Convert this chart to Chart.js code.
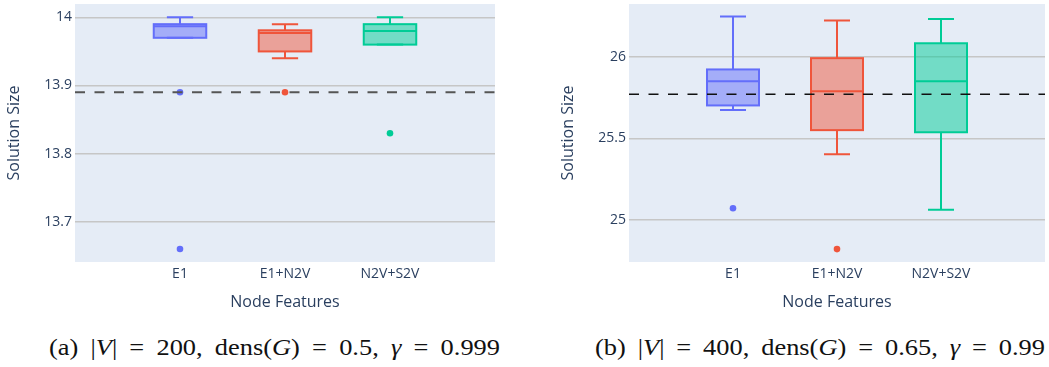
<!DOCTYPE html>
<html>
<head>
<meta charset="utf-8">
<script src="https://cdn.jsdelivr.net/npm/chart.js@4.4.0/dist/chart.umd.min.js"></script>
<style>
  html, body { margin: 0; padding: 0; background: #ffffff; }
  body { width: 1049px; height: 367px; position: relative; overflow: hidden; }
  canvas { position: absolute; top: 0; }
  #ca { left: 0; }
  #cb { left: 549px; }
  .cap { position: absolute; top: 333px; font-family: "Liberation Serif"; font-weight: 400; font-size: 24px; line-height: 28px; white-space: pre; color: #111; transform-origin: 0 0; }
  .cap i { font-style: italic; }
</style>
</head>
<body>
<canvas id="ca" width="520" height="320"></canvas>
<canvas id="cb" width="500" height="320"></canvas>
<div class="cap" id="capA" data-w="451" style="left:49px">(a) |<i>V</i>| = 200, dens(<i>G</i>) = 0.5, <i>γ</i> = 0.999</div>
<div class="cap" id="capB" data-w="450" style="left:595px">(b) |<i>V</i>| = 400, dens(<i>G</i>) = 0.65, <i>γ</i> = 0.99</div>
<script>
// ---------- data ----------
const categories = ['E1', 'E1+N2V', 'N2V+S2V'];
const colors = ['#636efa', '#EF553B', '#00cc96'];

// panel (a)
const aLow    = [13.970, 13.940, 13.960];
const aQ1     = [13.970, 13.950, 13.960];
const aMedian = [13.987, 13.977, 13.980];
const aQ3     = [13.990, 13.981, 13.990];
const aHigh   = [14.000, 13.990, 14.000];
const aOutliers = [[13.890, 13.660], [13.890], [13.830]];
const aReference = 13.89;
const aTicks = [13.7, 13.8, 13.9, 14.0];
const aRange = [13.641, 14.0196];

// panel (b)
const bLow    = [25.673, 25.402, 25.063];
const bQ1     = [25.701, 25.550, 25.537];
const bMedian = [25.849, 25.788, 25.849];
const bQ3     = [25.921, 25.990, 26.081];
const bHigh   = [26.244, 26.220, 26.229];
const bOutliers = [[25.073], [24.823], []];
const bReference = 25.77;
const bTicks = [25.0, 25.5, 26.0];
const bRange = [24.744, 26.321];

// ---------- helpers ----------
function hexA(hex, a) {
  const n = parseInt(hex.slice(1), 16);
  return `rgba(${(n >> 16) & 255},${(n >> 8) & 255},${n & 255},${a})`;
}

const bgPlugin = {
  id: 'plotBg',
  beforeDraw(chart) {
    const { ctx, chartArea: c } = chart;
    ctx.save();
    ctx.fillStyle = '#E5ECF6';
    ctx.fillRect(c.left, c.top, c.right - c.left, c.bottom - c.top);
    ctx.restore();
  }
};

const boxPlugin = {
  id: 'boxes',
  beforeDatasetsDraw(chart) {
    const st = chart.options.plugins.boxes;
    if (!st) return;
    const { ctx } = chart;
    const xs = chart.scales.x, ys = chart.scales.y;
    ctx.save();
    ctx.beginPath();
    ctx.rect(chart.chartArea.left, chart.chartArea.top, chart.chartArea.right - chart.chartArea.left, chart.chartArea.bottom - chart.chartArea.top);
    ctx.clip();
    categories.forEach((cat, i) => {
      const xc = xs.getPixelForValue(i + 1);
      const hw = xs.getPixelForValue(i + 1 + st.halfWidth) - xc;
      const cw = hw / 2;
      const yq1 = ys.getPixelForValue(st.q1[i]);
      const yq3 = ys.getPixelForValue(st.q3[i]);
      const ym = ys.getPixelForValue(st.median[i]);
      const ylo = ys.getPixelForValue(st.low[i]);
      const yhi = ys.getPixelForValue(st.high[i]);
      const col = colors[i];
      ctx.lineWidth = 2;
      ctx.strokeStyle = col;
      ctx.fillStyle = hexA(col, 0.5);
      ctx.fillRect(xc - hw, yq3, 2 * hw, yq1 - yq3);
      ctx.strokeRect(xc - hw, yq3, 2 * hw, yq1 - yq3);
      ctx.beginPath();
      ctx.moveTo(xc - hw, ym); ctx.lineTo(xc + hw, ym);
      ctx.moveTo(xc, yq3); ctx.lineTo(xc, yhi);
      ctx.moveTo(xc, yq1); ctx.lineTo(xc, ylo);
      ctx.moveTo(xc - cw, yhi); ctx.lineTo(xc + cw, yhi);
      ctx.moveTo(xc - cw, ylo); ctx.lineTo(xc + cw, ylo);
      ctx.stroke();
    });
    ctx.restore();
  }
};

function makeChart(canvasId, s) {
  const datasets = [];
  datasets.push({
    type: 'line',
    data: [{ x: 0, y: s.reference }, { x: 4, y: s.reference }],
    borderColor: s.refColor,
    borderWidth: s.refWidth,
    borderDash: [10, 9.5],
    pointRadius: 0,
    fill: false
  });
  s.outliers.forEach((arr, i) => {
    datasets.push({
      type: 'scatter',
      data: arr.map(v => ({ x: i + 1, y: v })),
      backgroundColor: colors[i],
      borderWidth: 0,
      pointRadius: 3.3
    });
  });
  const tickFont = { family: '"Open Sans", sans-serif', size: 14 };
  const titleFont = { family: '"Open Sans", sans-serif', size: 16 };
  return new Chart(document.getElementById(canvasId), {
    type: 'scatter',
    data: { datasets },
    plugins: [bgPlugin, boxPlugin],
    options: {
      responsive: false,
      animation: false,
      devicePixelRatio: 1,
      layout: { padding: { top: 3, right: s.padRight, left: 0, bottom: 0 } },
      plugins: {
        legend: { display: false },
        tooltip: { enabled: false },
        boxes: { low: s.low, q1: s.q1, median: s.median, q3: s.q3, high: s.high, halfWidth: 0.25 }
      },
      scales: {
        x: {
          type: 'linear', min: 0, max: 4,
          afterBuildTicks: sc => { sc.ticks = categories.map((c, i) => ({ value: i + 1 })); },
          afterFit: sc => { sc.height = 58; sc.paddingLeft = 0; sc.paddingRight = 0; },
          grid: { display: false, drawTicks: false },
          border: { display: false },
          ticks: {
            autoSkip: false, maxRotation: 0, padding: 4,
            color: '#2a3f5f', font: tickFont,
            callback: v => categories[Math.round(v) - 1]
          },
          title: { display: true, text: 'Node Features', color: '#2a3f5f', font: titleFont, padding: { top: 0, bottom: 8 } }
        },
        y: {
          type: 'linear', min: s.range[0], max: s.range[1],
          afterBuildTicks: sc => { sc.ticks = s.ticks.map(v => ({ value: v })); },
          afterFit: sc => { sc.width = s.yWidth; sc.paddingTop = 0; sc.paddingBottom = 0; },
          grid: { color: '#c6c6c6', lineWidth: 1.5, drawTicks: false },
          border: { display: false },
          ticks: {
            padding: 3, color: '#2a3f5f', font: tickFont,
            callback: v => String(parseFloat(Number(v).toFixed(2)))
          },
          title: { display: true, text: 'Solution Size', color: '#2a3f5f', font: titleFont, padding: { top: s.titlePad, bottom: 0 } }
        }
      }
    }
  });
}

makeChart('ca', {
  low: aLow, q1: aQ1, median: aMedian, q3: aQ3, high: aHigh,
  outliers: aOutliers, reference: aReference, ticks: aTicks, range: aRange,
  refColor: '#555555', refWidth: 2, yWidth: 75, padRight: 25, titlePad: 4.4
});
makeChart('cb', {
  low: bLow, q1: bQ1, median: bMedian, q3: bQ3, high: bHigh,
  outliers: bOutliers, reference: bReference, ticks: bTicks, range: bRange,
  refColor: '#111111', refWidth: 1.5, yWidth: 80, padRight: 0, titlePad: 9.4
});

// widen glyphs a little and spread spaces so each caption spans the reference width
document.querySelectorAll('.cap').forEach(el => {
  const k = 1.1;
  const target = parseFloat(el.dataset.w);
  const w = el.getBoundingClientRect().width;
  const spaces = (el.textContent.match(/ /g) || []).length;
  el.style.wordSpacing = ((target / k - w) / spaces) + 'px';
  el.style.transform = `scaleX(${k})`;
});
</script>
</body>
</html>
